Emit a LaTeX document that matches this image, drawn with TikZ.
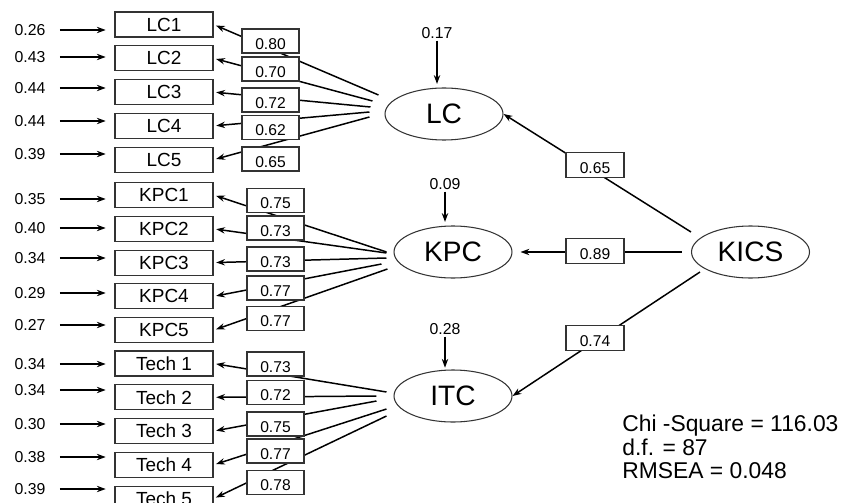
\documentclass[tikz,border=0pt]{standalone}
\usepackage{fontspec}
\setmainfont{Liberation Sans}
\usetikzlibrary{positioning,arrows.meta,shapes.geometric}

\begin{document}
\begin{tikzpicture}[
    x=0.02cm, y=-0.02cm,
    node distance=0.155cm,
    indicator/.style={rectangle, draw=black!80, line width=0.6pt, minimum width=1.96cm, minimum height=0.5cm, inner sep=0pt, font=\fontsize{10.8}{12}\selectfont},
    latent/.style={ellipse, draw=black!80, line width=0.6pt, minimum width=2.36cm, minimum height=1.04cm, inner sep=0pt, font=\fontsize{16}{18}\selectfont},
    coef/.style={rectangle, draw=black!80, fill=white, line width=0.6pt, minimum width=1.14cm, minimum height=0.48cm, inner xsep=0pt, inner ysep=2pt, text height=9.6pt, text depth=0pt, font=\fontsize{8.9}{10}\selectfont},
    pathcoef/.style={coef, minimum width=1.16cm, minimum height=0.5cm, text height=10.2pt},
    errlabel/.style={inner sep=1pt, font=\fontsize{9}{10}\selectfont},
    distlabel/.style={inner sep=1pt, font=\fontsize{9}{10}\selectfont},
    stats/.style={inner sep=0pt, align=left, anchor=north west, font=\fontsize{13}{13.4}\selectfont},
    arrow/.style={-{Stealth[length=5pt, width=3.6pt]}, line width=0.85pt, black},
    load/.style={arrow, shorten >=1.5pt},
    errarrow/.style={arrow, shorten <=7pt, shorten >=5pt},
]
\useasboundingbox (0,0) rectangle (861,503);

% Indicators
\node[indicator] (LC1) at (164,24.5) {LC1};
\node[indicator, below=of LC1] (LC2) {LC2};
\node[indicator, below=of LC2] (LC3) {LC3};
\node[indicator, below=of LC3] (LC4) {LC4};
\node[indicator, below=of LC4] (LC5) {LC5};

\node[indicator] (KPC1) at (164,195) {KPC1};
\node[indicator, below=of KPC1] (KPC2) {KPC2};
\node[indicator, below=of KPC2] (KPC3) {KPC3};
\node[indicator, below=of KPC3] (KPC4) {KPC4};
\node[indicator, below=of KPC4] (KPC5) {KPC5};

\node[indicator] (Tech1) at (164,363.5) {Tech 1};
\node[indicator, below=of Tech1] (Tech2) {Tech 2};
\node[indicator, below=of Tech2] (Tech3) {Tech 3};
\node[indicator, below=of Tech3] (Tech4) {Tech 4};
\node[indicator, below=of Tech4] (Tech5) {Tech 5};

% Latent variables
\node[latent] (LC) at (444,114) {LC};
\node[latent] (KPC) at (453,252) {KPC};
\node[latent] (ITC) at (453,396) {ITC};
\node[latent] (KICS) at (750.5,252) {KICS};

% Measurement errors
\node[errlabel] (eLC1) at (30,30) {0.26};
\node[errlabel] (eLC2) at (30,57) {0.43};
\node[errlabel] (eLC3) at (30,88) {0.44};
\node[errlabel] (eLC4) at (30,121) {0.44};
\node[errlabel] (eLC5) at (30,154) {0.39};
\node[errlabel] (eKPC1) at (30,199) {0.35};
\node[errlabel] (eKPC2) at (30,228) {0.40};
\node[errlabel] (eKPC3) at (30,258) {0.34};
\node[errlabel] (eKPC4) at (30,293) {0.29};
\node[errlabel] (eKPC5) at (30,325) {0.27};
\node[errlabel] (eTech1) at (30,364) {0.34};
\node[errlabel] (eTech2) at (30,390) {0.34};
\node[errlabel] (eTech3) at (30,424) {0.30};
\node[errlabel] (eTech4) at (30,457) {0.38};
\node[errlabel] (eTech5) at (30,489) {0.39};

\draw[errarrow] (eLC1) -- (eLC1 -| LC1.west);
\draw[errarrow] (eLC2) -- (eLC2 -| LC2.west);
\draw[errarrow] (eLC3) -- (eLC3 -| LC3.west);
\draw[errarrow] (eLC4) -- (eLC4 -| LC4.west);
\draw[errarrow] (eLC5) -- (eLC5 -| LC5.west);
\draw[errarrow] (eKPC1) -- (eKPC1 -| KPC1.west);
\draw[errarrow] (eKPC2) -- (eKPC2 -| KPC2.west);
\draw[errarrow] (eKPC3) -- (eKPC3 -| KPC3.west);
\draw[errarrow] (eKPC4) -- (eKPC4 -| KPC4.west);
\draw[errarrow] (eKPC5) -- (eKPC5 -| KPC5.west);
\draw[errarrow] (eTech1) -- (eTech1 -| Tech1.west);
\draw[errarrow] (eTech2) -- (eTech2 -| Tech2.west);
\draw[errarrow] (eTech3) -- (eTech3 -| Tech3.west);
\draw[errarrow] (eTech4) -- (eTech4 -| Tech4.west);
\draw[errarrow] (eTech5) -- (eTech5 -| Tech5.west);

% Loadings
\draw[load] ([shift={(-6,-19)}]LC.west) -- (LC1.east);
\draw[load] ([shift={(-12,-13)}]LC.west) -- (LC2.east);
\draw[load] ([shift={(-14,-7)}]LC.west) -- (LC3.east);
\draw[load] ([shift={(-15,-2)}]LC.west) -- (LC4.east);
\draw[load] ([shift={(-15,3)}]LC.west) -- (LC5.east);

\draw[load] ([shift={(-7,0)}]KPC.west) -- (KPC1.east);
\draw[load] ([shift={(-7,1)}]KPC.west) -- (KPC2.east);
\draw[load] ([shift={(-7,6)}]KPC.west) -- (KPC3.east);
\draw[load] ([shift={(-12,12)}]KPC.west) -- (KPC4.east);
\draw[load] ([shift={(-6,17)}]KPC.west) -- (KPC5.east);

\draw[load] ([shift={(-7,-4)}]ITC.west) -- (Tech1.east);
\draw[load] ([shift={(-17,0)}]ITC.west) -- (Tech2.east);
\draw[load] ([shift={(-17,5)}]ITC.west) -- (Tech3.east);
\draw[load] ([shift={(-7,13)}]ITC.west) -- (Tech4.east);
\draw[load] ([shift={(-7,20)}]ITC.west) -- (Tech5.east);

\node[coef] (cLC1) at (270.5,41) {0.80};
\node[coef] (cLC2) at (270.5,69) {0.70};
\node[coef] (cLC3) at (270.5,100) {0.72};
\node[coef] (cLC4) at (270.5,127.5) {0.62};
\node[coef] (cLC5) at (270.5,159) {0.65};

\node[coef] (cKPC1) at (275.5,200.5) {0.75};
\node[coef] (cKPC2) at (275.5,228) {0.73};
\node[coef] (cKPC3) at (275.5,259) {0.73};
\node[coef] (cKPC4) at (275.5,288) {0.77};
\node[coef] (cKPC5) at (275.5,318.5) {0.77};

\node[coef] (cTech1) at (275.5,364) {0.73};
\node[coef] (cTech2) at (275.5,392.5) {0.72};
\node[coef] (cTech3) at (275.5,424) {0.75};
\node[coef] (cTech4) at (275.5,451) {0.77};
\node[coef] (cTech5) at (275.5,482.5) {0.78};

% Structural paths
\draw[arrow] ([shift={(0,-20)}]KICS.west) -- (LC.east);
\draw[arrow] ([shift={(-9,0)}]KICS.west) -- ([shift={(8,0)}]KPC.east);
\draw[arrow] ([shift={(9,20)}]KICS.west) -- (ITC.east);

\node[pathcoef] (pLC) at (595,165) {0.65};
\node[pathcoef] (pKPC) at (595,251) {0.89};
\node[pathcoef] (pITC) at (595,338) {0.74};

% Disturbances
\node[distlabel] (dLC) at (437,33) {0.17};
\node[distlabel] (dKPC) at (445,184) {0.09};
\node[distlabel] (dITC) at (445,329) {0.28};
\draw[arrow, shorten >=2pt] (dLC.south) -- (dLC.south |- LC.north);
\draw[arrow, shorten >=2pt] (dKPC.south) -- (dKPC.south |- KPC.north);
\draw[arrow, shorten >=1pt] (dITC.south) -- (dITC.south |- ITC.north);

% Fit indices
\node[stats] (fit) at (622,415) {Chi -Square = 116.03\\d.f. = 87\\RMSEA = 0.048};

\end{tikzpicture}
\end{document}
